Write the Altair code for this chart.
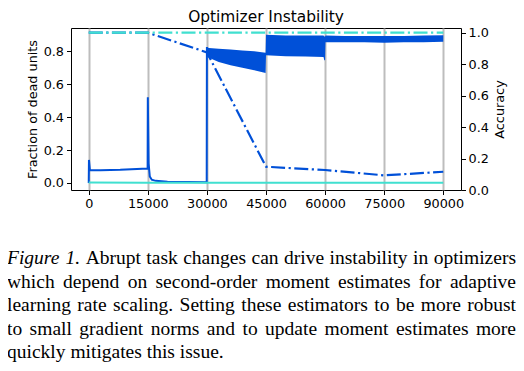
import altair as alt
import pandas as pd

# ---------------- data ----------------
STEP_TICKS = [0, 15000, 30000, 45000, 60000, 75000, 90000]
DEAD_TICKS = [0.0, 0.2, 0.4, 0.6, 0.8]
ACC_TICKS = [0.0, 0.2, 0.4, 0.6, 0.8, 1.0]

# blue optimizer: fraction of dead units, thin part of the trace
blue_dead_steps = [0, 60, 300, 3000, 8000, 14950, 15000, 15200, 15500, 16000,
                   17000, 20000, 25000, 29950, 30000]
blue_dead_frac = [0.0, 0.14, 0.078, 0.078, 0.080, 0.088, 0.52, 0.12, 0.04, 0.02,
                  0.013, 0.008, 0.006, 0.005, 0.825]

# blue optimizer: envelope of the dense oscillating part of the trace
band_steps = [30000, 30500, 33000, 36000, 39000, 42000, 44900,
              45000, 50000, 55000, 59600, 59800, 60000,
              60100, 65000, 70000, 75000, 80000, 85000, 90000]
band_low = [0.77, 0.76, 0.735, 0.715, 0.70, 0.685, 0.668,
            0.775, 0.77, 0.768, 0.765, 0.745, 0.745,
            0.855, 0.855, 0.855, 0.852, 0.855, 0.855, 0.858]
band_high = [0.825, 0.82, 0.815, 0.81, 0.805, 0.80, 0.79,
             0.90, 0.895, 0.895, 0.895, 0.89, 0.89,
             0.895, 0.893, 0.893, 0.893, 0.893, 0.895, 0.897]

# teal optimizer: fraction of dead units
teal_dead_steps = [0, 15000, 30000, 45000, 60000, 75000, 90000]
teal_dead_frac = [0.003, 0.002, 0.002, 0.002, 0.001, 0.001, 0.001]

# accuracy (right axis)
acc_steps = [0, 15000, 30000, 45000, 60000, 75000, 90000]
blue_acc = [1.0, 1.0, 0.875, 0.148, 0.127, 0.093, 0.116]
teal_acc = [1.0, 1.0, 1.0, 1.0, 1.0, 1.0, 1.0]

TITLE = "Optimizer Instability"
Y_LEFT_TITLE = "Fraction of dead units"
Y_RIGHT_TITLE = "Accuracy"
CAPTION_LINES = [
    "Figure 1. Abrupt task changes can drive instability in optimizers",
    "which depend on second-order moment estimates for adaptive",
    "learning rate scaling. Setting these estimators to be more robust",
    "to small gradient norms and to update moment estimates more",
    "quickly mitigates this issue.",
]

# ---------------- styles ----------------
BLUE = "#0050d8"
TEAL = "#40e0d0"
GRID = "#bdbdbd"
SANS = "DejaVu Sans"
SERIF = "Liberation Serif"
FS_TICK = 12.8
FS_TITLE = 15.4
FS_CAP = 19.5
DASHDOT = [14, 3.5, 2.2, 3.5]

X_DOMAIN = [-4500, 94500]
LEFT_DOMAIN = [-0.0425, 0.941]
RIGHT_DOMAIN = [0.0, 1.03]

# ---------------- caption layout (justified, Times metrics) ----------------
ROMAN = {'a': 444, 'b': 500, 'c': 444, 'd': 500, 'e': 444, 'f': 333, 'g': 500, 'h': 500,
         'i': 278, 'j': 278, 'k': 500, 'l': 278, 'm': 778, 'n': 500, 'o': 500, 'p': 500,
         'q': 500, 'r': 333, 's': 389, 't': 278, 'u': 500, 'v': 500, 'w': 722, 'x': 500,
         'y': 500, 'z': 444, 'A': 722, 'F': 556, 'S': 556, '.': 250, '-': 333, '1': 500,
         ' ': 250}
ITALIC = {'F': 611, 'i': 278, 'g': 500, 'u': 500, 'r': 389, 'e': 444, '1': 500, '.': 250,
          ' ': 250}
CAP_LEFT, CAP_RIGHT = -64.0, 445.0
CAP_BASE = [236.3, 259.8, 283.3, 306.8, 330.3]

rows = []
for li, line in enumerate(CAPTION_LINES):
    words = line.split(" ")
    styles = ["italic" if (li == 0 and wi < 2) else "normal" for wi in range(len(words))]
    widths = [sum((ITALIC if s == "italic" else ROMAN)[c] for c in w) / 1000 * FS_CAP
              for w, s in zip(words, styles)]
    if li < len(CAPTION_LINES) - 1:
        gap = (CAP_RIGHT - CAP_LEFT - sum(widths)) / (len(words) - 1)
    else:
        gap = ROMAN[' '] / 1000 * FS_CAP
    x = CAP_LEFT
    for w, s, wd in zip(words, styles, widths):
        rows.append({"word": w, "style": s, "px": x, "py": CAP_BASE[li]})
        x += wd + gap
cap = pd.DataFrame(rows)

# ---------------- tables ----------------
df_blue_dead = pd.DataFrame({"i": range(len(blue_dead_steps)), "step": blue_dead_steps,
                             "frac": blue_dead_frac})
df_band = pd.DataFrame({"step": band_steps, "lo": band_low, "hi": band_high})
df_teal_dead = pd.DataFrame({"step": teal_dead_steps, "frac": teal_dead_frac})
df_acc = pd.DataFrame({"step": acc_steps, "blue": blue_acc, "teal": teal_acc})

# ---------------- encodings ----------------
x_axis = alt.Axis(values=STEP_TICKS, format="d", title=None, grid=True, gridColor=GRID,
                  gridWidth=2, tickSize=4.5, labelPadding=2.5, domain=False,
                  labelFlush=False)
x_enc = alt.X("step:Q", scale=alt.Scale(domain=X_DOMAIN, nice=False, zero=False),
              axis=x_axis)

left_axis = alt.Axis(values=DEAD_TICKS, format=".1f", title=Y_LEFT_TITLE, orient="left",
                     grid=False, tickSize=4.5, labelPadding=3, titlePadding=4,
                     domain=False, labelFlush=False)
left_scale = alt.Scale(domain=LEFT_DOMAIN, nice=False, zero=False)

right_axis = alt.Axis(values=ACC_TICKS, format=".1f", title=Y_RIGHT_TITLE, orient="right",
                      grid=False, tickSize=4.5, labelPadding=2.5, titlePadding=5.5,
                      titleAngle=270, titleBaseline="top", domain=False, labelFlush=False)
right_scale = alt.Scale(domain=RIGHT_DOMAIN, nice=False, zero=False)

band = alt.Chart(df_band).mark_area(color=BLUE, opacity=1).encode(
    x=x_enc,
    y=alt.Y("lo:Q", scale=left_scale, axis=left_axis),
    y2="hi:Q",
)
blue_dead = alt.Chart(df_blue_dead).mark_line(color=BLUE, strokeWidth=2).encode(
    x=x_enc,
    y=alt.Y("frac:Q", scale=left_scale, axis=left_axis),
    order="i:Q",
)
teal_dead = alt.Chart(df_teal_dead).mark_line(color=TEAL, strokeWidth=2).encode(
    x=x_enc,
    y=alt.Y("frac:Q", scale=left_scale, axis=left_axis),
)
left = alt.layer(band, blue_dead, teal_dead)

blue_acc_line = alt.Chart(df_acc).mark_line(
    color=BLUE, strokeWidth=2.2, strokeDash=DASHDOT, strokeCap="butt").encode(
    x=x_enc,
    y=alt.Y("blue:Q", scale=right_scale, axis=right_axis),
)
teal_acc_line = alt.Chart(df_acc).mark_line(
    color=TEAL, strokeWidth=2.2, strokeDash=DASHDOT, strokeCap="butt").encode(
    x=x_enc,
    y=alt.Y("teal:Q", scale=right_scale, axis=right_axis),
)
right = alt.layer(blue_acc_line, teal_acc_line)

title = alt.Chart(pd.DataFrame({"t": [TITLE]})).mark_text(
    font=SANS, fontSize=FS_TITLE, align="center", baseline="alphabetic", color="black"
).encode(x=alt.value(195), y=alt.value(-6), text="t:N")

cap_normal = alt.Chart(cap[cap["style"] == "normal"]).mark_text(
    font=SERIF, fontSize=FS_CAP, align="left", baseline="alphabetic", color="black"
).encode(x=alt.X("px:Q", scale=None), y=alt.Y("py:Q", scale=None), text="word:N")
cap_italic = alt.Chart(cap[cap["style"] == "italic"]).mark_text(
    font=SERIF, fontSize=FS_CAP, fontStyle="italic", align="left", baseline="alphabetic",
    color="black"
).encode(x=alt.X("px:Q", scale=None), y=alt.Y("py:Q", scale=None), text="word:N")

chart = alt.layer(left, right, title, cap_normal, cap_italic).resolve_scale(
    y="independent"
).properties(
    width=390, height=162,
    padding={"left": 63, "top": 20, "right": 55, "bottom": 173},
    autosize=alt.AutoSizeParams(type="none"),
).configure_view(
    stroke="black", strokeWidth=1
).configure_axis(
    labelFont=SANS, titleFont=SANS, labelFontSize=FS_TICK, titleFontSize=FS_TICK,
    titleFontWeight="normal", labelColor="black", titleColor="black",
    tickColor="black", tickWidth=1,
)

chart.save("out.html", embed_options={"renderer": "svg", "actions": False})
